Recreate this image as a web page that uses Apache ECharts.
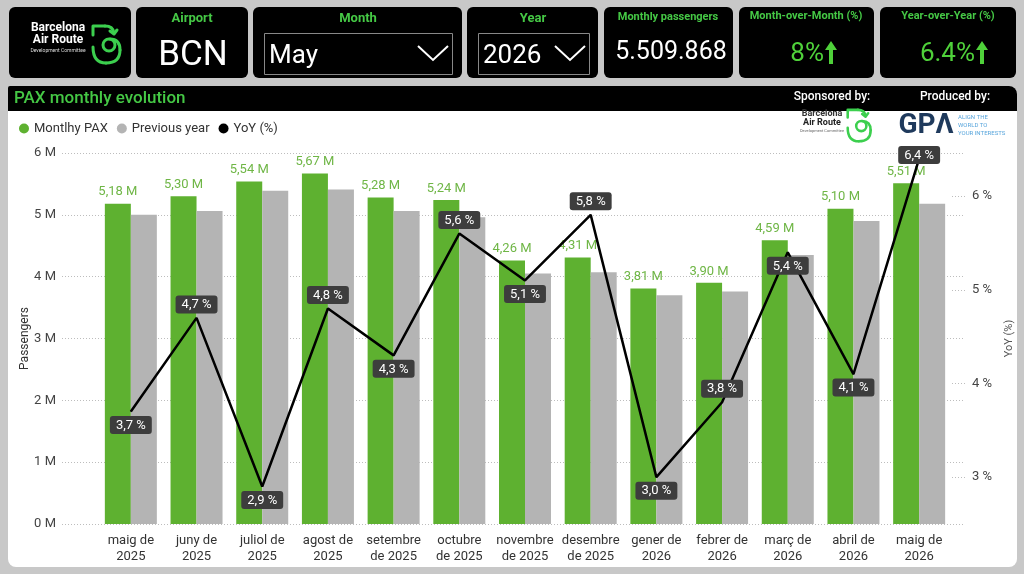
<!DOCTYPE html>
<html>
<head>
<meta charset="utf-8">
<script src="https://cdn.jsdelivr.net/npm/echarts@6/dist/echarts.min.js"></script>
<style>html,body{margin:0;padding:0;background:#c8c8c8;}#c{width:1024px;height:574px;}</style>
</head>
<body>
<div id="c"></div>
<script>
// ---- data ----
var categories = ["maig de\n2025", "juny de\n2025", "juliol de\n2025", "agost de\n2025", "setembre\nde 2025", "octubre\nde 2025", "novembre\nde 2025", "desembre\nde 2025", "gener de\n2026", "febrer de\n2026", "març de\n2026", "abril de\n2026", "maig de\n2026"];
var monthlyPax = [5.18, 5.30, 5.54, 5.67, 5.28, 5.24, 4.26, 4.31, 3.81, 3.90, 4.59, 5.10, 5.51];
var previousYear = [5.00, 5.06, 5.39, 5.41, 5.06, 4.96, 4.05, 4.07, 3.70, 3.76, 4.35, 4.90, 5.18];
var yoyPct = [3.7, 4.7, 2.9, 4.8, 4.3, 5.6, 5.1, 5.8, 3.0, 3.8, 5.4, 4.1, 6.4];
var leftTicks = ["0 M", "1 M", "2 M", "3 M", "4 M", "5 M", "6 M"];
var rightTicks = [3, 4, 5, 6];
var kpi = {airport: "BCN", month: "May", year: "2026", passengers: "5.509.868", mom: "8%", yoy: "6.4%"};

// label placement for YoY labels (style, not data)
var yoySide = ['bottom','top','bottom','top','bottom','top','bottom','top','bottom','top','bottom','bottom','top'];

var FONT = 'Roboto, "Noto Sans", sans-serif';
var GREEN_T = '#45c845';

function box(x, y, w, h, r) { return {type: 'rect', z: -5, shape: {x: x, y: y, width: w, height: h, r: r === undefined ? 6 : r}, style: {fill: '#000'}}; }
function txt(x, y, text, size, color, align, weight, extra) {
  var s = {text: text, fontSize: size, fill: color, align: align || 'center', textAlign: align || 'center', verticalAlign: 'middle', textVerticalAlign: 'middle', fontWeight: weight || 'normal', fontFamily: FONT};
  if (extra) for (var k in extra) s[k] = extra[k];
  return {type: 'text', x: x, y: y, z: 5, style: s};
}
function arrowUp(cx, top, bottom, color) {
  return {type: 'polygon', z: 5, shape: {points: [[cx, top], [cx + 6, top + 9], [cx + 2, top + 9], [cx + 2, bottom], [cx - 2, bottom], [cx - 2, top + 9], [cx - 6, top + 9]]}, style: {fill: color}};
}
function chevron(x, y) {
  return {type: 'polyline', z: 5, shape: {points: [[x, y], [x + 15, y + 14], [x + 30, y]]}, style: {stroke: '#fff', lineWidth: 2, fill: null}};
}
function bLogo(ox, oy, s, color) {
  var st = {stroke: color, lineWidth: 3, fill: null, lineCap: 'round', lineJoin: 'round'};
  return {type: 'group', x: ox, y: oy, scaleX: s, scaleY: s, z: 5, children: [
    {type: 'polyline', shape: {points: [[2, 10], [2, 1], [14, 1]]}, style: st},
    {type: 'bezierCurve', shape: {x1: 14, y1: 1, cpx1: 22, cpy1: 1, x2: 23, y2: 8}, style: st},
    {type: 'polyline', shape: {points: [[19, 6], [23, 9], [26, 5]]}, style: st},
    {type: 'bezierCurve', shape: {x1: 2, y1: 22, cpx1: 2, cpy1: 38, x2: 15, y2: 38}, style: st},
    {type: 'bezierCurve', shape: {x1: 15, y1: 38, cpx1: 29, cpy1: 38, x2: 29, y2: 25}, style: st},
    {type: 'bezierCurve', shape: {x1: 29, y1: 25, cpx1: 29, cpy1: 14, x2: 19, y2: 14}, style: st},
    {type: 'circle', shape: {cx: 18, cy: 20, r: 6}, style: st}
  ]};
}

var graphics = [
  // chart panel
  {type: 'rect', z: -10, shape: {x: 8, y: 86, width: 1009, height: 481, r: 8}, style: {fill: '#fff'}},
  {type: 'rect', z: -5, shape: {x: 8, y: 86, width: 1009, height: 25, r: [2, 8, 0, 0]}, style: {fill: '#000'}},
  txt(14, 99, 'PAX monthly evolution', 17, GREEN_T, 'left', '500'),
  txt(832, 97, 'Sponsored by:', 12, '#fff', 'center', '500'),
  txt(955, 97, 'Produced by:', 12, '#fff', 'center', '500'),
  // header boxes
  box(9, 7, 122, 71), box(136, 7, 112, 71), box(253, 7, 209, 71), box(467, 7, 131, 71),
  box(604, 7, 129, 71), box(739, 7, 135, 71), box(880, 7, 136, 71),
  // logo box
  txt(58, 28, 'Barcelona', 12, '#fff', 'center', 'bold'),
  txt(58, 40, 'Air Route', 12, '#fff', 'center', 'bold'),
  txt(58, 51, 'Development Committee', 5, '#ddd', 'center'),
  bLogo(91, 25, 1, '#3ccf4e'),
  // airport
  txt(192, 19, 'Airport', 13, GREEN_T, 'center', 'bold'),
  txt(193, 56, kpi.airport, 35, '#fff', 'center'),
  // month
  txt(358, 19, 'Month', 13, GREEN_T, 'center', 'bold'),
  {type: 'rect', z: 4, shape: {x: 264.5, y: 33.5, width: 188, height: 41}, style: {fill: null, stroke: '#888', lineWidth: 1}},
  txt(269, 56, kpi.month, 26, '#fff', 'left'),
  chevron(418, 46),
  // year
  txt(533, 19, 'Year', 13, GREEN_T, 'center', 'bold'),
  {type: 'rect', z: 4, shape: {x: 478.5, y: 33.5, width: 111, height: 41}, style: {fill: null, stroke: '#888', lineWidth: 1}},
  txt(483, 56, kpi.year, 26, '#fff', 'left'),
  chevron(555, 46),
  // passengers
  txt(668, 17, 'Monthly passengers', 11, GREEN_T, 'center', 'bold'),
  txt(671, 53, kpi.passengers, 25, '#fff', 'center'),
  // MoM
  txt(806, 16, 'Month-over-Month (%)', 11, GREEN_T, 'center', 'bold'),
  txt(824, 54, kpi.mom, 26, '#4fd13a', 'right'),
  arrowUp(831, 41, 64, '#4fd13a'),
  // YoY
  txt(948, 16, 'Year-over-Year (%)', 11, GREEN_T, 'center', 'bold'),
  txt(975, 54, kpi.yoy, 26, '#4fd13a', 'right'),
  arrowUp(982, 41, 64, '#4fd13a'),
  // sponsor logo
  txt(822, 114, 'Barcelona', 9, '#333', 'center', 'bold'),
  txt(822, 123, 'Air Route', 9, '#222', 'center', 'bold'),
  txt(822, 131, 'Development Committee', 4, '#666', 'center'),
  bLogo(846, 109, 0.85, '#3ccf4e'),
  // GPA logo
  txt(926, 126, 'GPΛ', 28, '#1f3a5c', 'center', 'bold'),
  txt(958, 117, 'ALIGN THE', 6, '#5aa6dc', 'left'),
  txt(958, 125, 'WORLD TO', 6, '#5aa6dc', 'left'),
  txt(958, 133, 'YOUR INTERESTS', 6, '#5aa6dc', 'left')
];

var chart = echarts.init(document.getElementById('c'), null, {renderer: 'canvas'});
var dotted = {color: '#bdbdbd', type: [1, 2], width: 1};
var option = {
  backgroundColor: '#c8c8c8',
  animation: false,
  textStyle: {fontFamily: FONT},
  graphic: graphics,
  legend: {
    left: 14, top: 117, icon: 'circle', itemWidth: 10, itemHeight: 10, itemGap: 9,
    textStyle: {fontSize: 13, color: '#333', fontFamily: FONT},
    data: [{name: 'Montlhy PAX'}, {name: 'Previous year'}, {name: 'YoY (%)', itemStyle: {color: '#000'}}]
  },
  grid: [
    {left: 98, right: 72, top: 153, bottom: 50},
    {left: 62, right: 59, top: 153, bottom: 50}
  ],
  xAxis: [
    {type: 'category', gridIndex: 0, data: categories, axisLine: {show: false}, axisTick: {show: false},
      axisLabel: {interval: 0, fontSize: 13, color: '#333', lineHeight: 16, margin: 9, fontFamily: FONT}},
    {type: 'value', gridIndex: 1, show: false, min: 0, max: 1}
  ],
  yAxis: [
    {type: 'value', gridIndex: 0, min: 0, max: 6, interval: 1, name: 'Passengers', nameLocation: 'middle', nameRotate: 90, nameGap: 67,
      nameMoveOverlap: false,
      nameTextStyle: {fontSize: 12, color: '#333', fontFamily: FONT},
      axisLabel: {fontSize: 13, color: '#444', margin: 42, formatter: function (v) { return leftTicks[v]; }},
      splitLine: {show: false}, axisLine: {show: false}, axisTick: {show: false}},
    {type: 'value', gridIndex: 0, position: 'right', min: 2.5, max: 6.46, name: 'YoY (%)', nameLocation: 'middle', nameRotate: 90, nameGap: 52,
      nameMoveOverlap: false,
      nameTextStyle: {fontSize: 11, color: '#555', fontFamily: FONT},
      axisLabel: {fontSize: 13, color: '#444', margin: 20, customValues: rightTicks, formatter: function (v) { return v + ' %'; }},
      axisTick: {show: true, length: 14, customValues: rightTicks, lineStyle: dotted},
      splitLine: {show: false}, axisLine: {show: false}},
    {type: 'value', gridIndex: 1, min: 0, max: 6, interval: 1, axisLabel: {show: false}, axisLine: {show: false}, axisTick: {show: false},
      splitLine: {show: true, lineStyle: dotted}}
  ],
  series: [
    {name: 'Montlhy PAX', type: 'bar', xAxisIndex: 0, yAxisIndex: 0, data: monthlyPax, barWidth: 26, barGap: '0%',
      itemStyle: {color: '#5eb130'},
      label: {show: true, position: 'top', distance: 5, fontSize: 13, color: '#6fb646', fontFamily: FONT,
        formatter: function (p) { return p.value.toFixed(2).replace('.', ',') + ' M'; }}},
    {name: 'Previous year', type: 'bar', xAxisIndex: 0, yAxisIndex: 0, data: previousYear, barWidth: 26, barGap: '0%',
      itemStyle: {color: '#b4b4b4'}},
    {name: 'YoY (%)', type: 'line', xAxisIndex: 0, yAxisIndex: 1, z: 5, symbol: 'circle', symbolSize: 1, showSymbol: true,
      lineStyle: {color: '#000', width: 2.5}, itemStyle: {color: '#000'},
      data: yoyPct.map(function (v, i) {
        return {value: v, label: {position: yoySide[i], distance: i === 12 ? -6 : 4}};
      }),
      label: {show: true, backgroundColor: '#3d3d3d', borderRadius: 3, padding: [3, 6, 2, 6], color: '#fff', fontSize: 13, fontFamily: FONT,
        formatter: function (p) { return p.value.toFixed(1).replace('.', ',') + ' %'; }},
      labelLayout: {hideOverlap: false}}
  ]
};
chart.setOption(option);
</script>
</body>
</html>
